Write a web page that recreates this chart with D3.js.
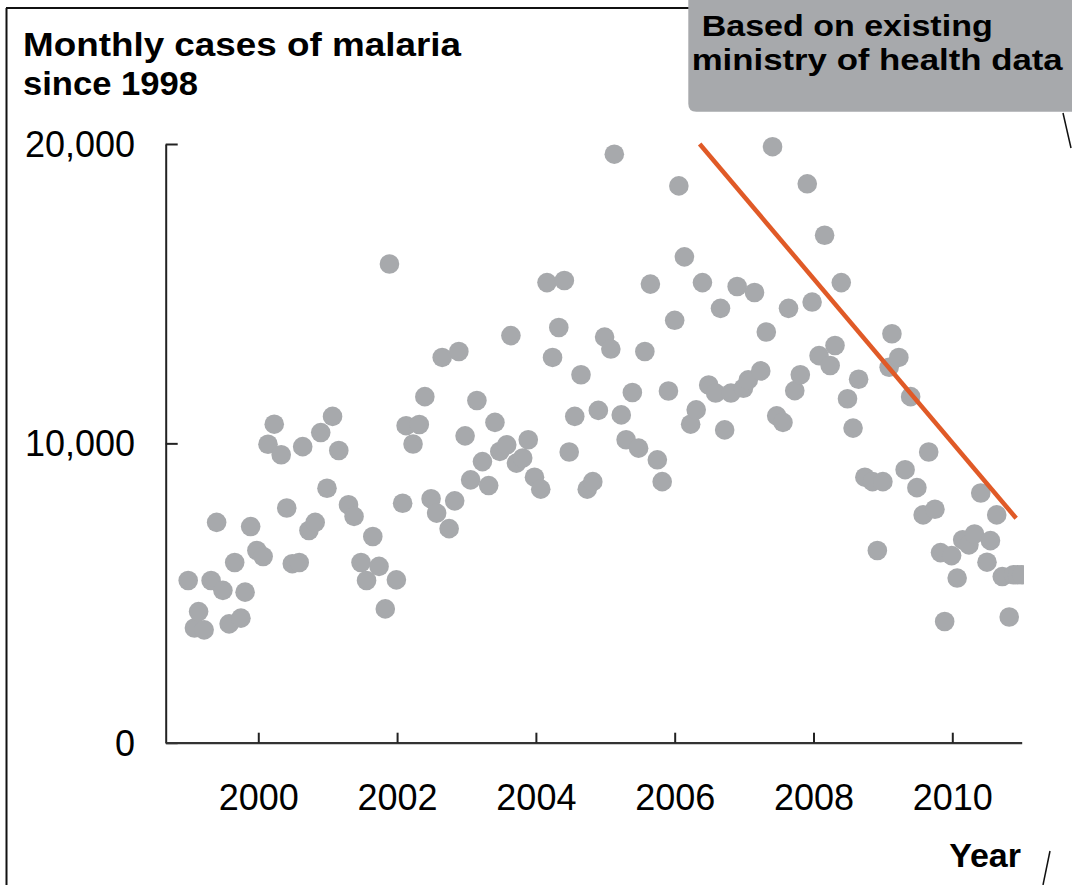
<!DOCTYPE html>
<html>
<head>
<meta charset="utf-8">
<script src="https://cdn.jsdelivr.net/npm/d3@7"></script>
<style>
  html, body { margin: 0; padding: 0; background: #fff; }
  svg { display: block; }
  text { font-family: "Liberation Sans", Arial, Helvetica, sans-serif; }
</style>
</head>
<body>
<svg id="chart" width="1072" height="885"></svg>
<script>
// ---- data ----
const titleLines = ["Monthly cases of malaria", "since 1998"];
const noteLines = ["Based on existing", "ministry of health data"];
const xAxisTitle = "Year";
const yTicks = [0, 10000, 20000];
const xTicks = [2000, 2002, 2004, 2006, 2008, 2010];

const years = [1998.99, 1999.08, 1999.14, 1999.22, 1999.32, 1999.40, 1999.49, 1999.58, 1999.66, 1999.75, 1999.81, 1999.89,
  1999.98, 2000.07, 2000.14, 2000.23, 2000.33, 2000.41, 2000.49, 2000.59, 2000.64, 2000.73, 2000.82, 2000.90,
  2000.99, 2001.07, 2001.16, 2001.30, 2001.38, 2001.48, 2001.56, 2001.65, 2001.74, 2001.83, 2001.89, 2001.99,
  2002.08, 2002.13, 2002.23, 2002.32, 2002.40, 2002.49, 2002.57, 2002.65, 2002.75, 2002.83, 2002.89, 2002.98,
  2003.06, 2003.15, 2003.23, 2003.32, 2003.41, 2003.48, 2003.58, 2003.64, 2003.72, 2003.81, 2003.89, 2003.98,
  2004.07, 2004.16, 2004.24, 2004.33, 2004.41, 2004.48, 2004.56, 2004.65, 2004.74, 2004.82, 2004.90,
  2004.99, 2005.08, 2005.13, 2005.23, 2005.30, 2005.39, 2005.48, 2005.57, 2005.65, 2005.75, 2005.82, 2005.91,
  2006.00, 2006.06, 2006.14, 2006.23, 2006.31, 2006.40, 2006.49, 2006.59, 2006.66, 2006.72, 2006.81, 2006.90,
  2006.99, 2007.06, 2007.15, 2007.24, 2007.32, 2007.41, 2007.47, 2007.56, 2007.64, 2007.73, 2007.81,
  2007.91, 2007.98, 2008.08, 2008.16, 2008.24, 2008.31, 2008.40, 2008.49, 2008.57, 2008.65,
  2008.74, 2008.85, 2008.92, 2009.00, 2009.09, 2009.13, 2009.23, 2009.32, 2009.40, 2009.49,
  2009.58, 2009.66, 2009.75, 2009.83, 2009.89, 2009.99, 2010.07, 2010.15, 2010.24, 2010.32,
  2010.41, 2010.50, 2010.55, 2010.64, 2010.72, 2010.82, 2010.88, 2010.94, 2011.00];

const cases = [5420, 3830, 4380, 3770, 5420, 7360, 5090, 3970, 6020, 4160, 5030, 7220,
  6420, 6220, 9970, 10640, 9620, 7840, 5980, 6020, 9890, 7090, 7360, 10360,
  8500, 10900, 9760, 7950, 7560, 6020, 5420, 6890, 5890, 4470, 15990, 5440,
  8000, 10590, 9980, 10630, 11560, 8150, 7670, 12870, 7150, 8080, 13070, 10250,
  8780, 11430, 9390, 8590, 10700, 9730, 9950, 13600, 9340, 9510, 10120, 8870,
  8470, 15370, 12870, 13870, 15440, 9710, 10900, 12290, 8470, 8720, 11100,
  13550, 13150, 19660, 10950, 10120, 11700, 9840, 13070, 15320, 9450, 8720, 11750,
  14110, 18600, 16230, 10640, 11120, 15370, 11950, 11680, 14510, 10450, 11680, 15240,
  11840, 12120, 15040, 12420, 13720, 19910, 10920, 10700, 14510, 11760, 12290,
  18670, 14720, 12930, 16950, 12600, 13270, 15370, 11490, 10510, 12140,
  8870, 8720, 6420, 8720, 12540, 13660, 12870, 9120, 11560, 8520,
  7610, 9710, 7800, 6350, 4050, 6250, 5500, 6780, 6610, 6970,
  8340, 6030, 6750, 7610, 5550, 4200, 5610, 5610, 5610];

const trendYears = [2006.36, 2010.92];
const trendCases = [20000, 7500];

// ---- drawing ----
const svg = d3.select("#chart");
svg.append("rect").attr("width", 1072).attr("height", 885).attr("fill", "#fff");

const x = d3.scaleLinear().domain([1998.666, 2011.0]).range([165.7, 1021.7]);
const y = d3.scaleLinear().domain([0, 20000]).range([742.7, 144]);

const grey = "#a7a9ac";
const axisColor = "#222";

// frame
svg.append("line").attr("x1", 6.5).attr("y1", 8).attr("x2", 6.5).attr("y2", 885)
  .attr("stroke", "#111").attr("stroke-width", 2);
svg.append("line").attr("x1", 6).attr("y1", 8).attr("x2", 700).attr("y2", 8)
  .attr("stroke", "#111").attr("stroke-width", 2);
svg.append("line").attr("x1", 1063).attr("y1", 113).attr("x2", 1071).attr("y2", 148)
  .attr("stroke", "#111").attr("stroke-width", 1.5);
svg.append("line").attr("x1", 1050).attr("y1", 851).attr("x2", 1043).attr("y2", 885)
  .attr("stroke", "#111").attr("stroke-width", 1.5);

// clip for points
svg.append("clipPath").attr("id", "plotClip")
  .append("rect").attr("x", 0).attr("y", 0).attr("width", 1024).attr("height", 885);

// points
const pts = years.map((yr, i) => ({ yr, v: cases[i] }));
svg.append("g").attr("clip-path", "url(#plotClip)")
  .selectAll("circle").data(pts).join("circle")
  .attr("cx", d => x(d.yr)).attr("cy", d => y(d.v))
  .attr("r", 9.8).attr("fill", grey);

// y axis
const yAxis = d3.axisLeft(y).tickValues(yTicks).tickFormat(d3.format(","))
  .tickSizeInner(-12).tickSizeOuter(0).tickPadding(30.7);
const gy = svg.append("g").attr("transform", "translate(165.7,0)").call(yAxis);
gy.select(".domain").attr("stroke", axisColor).attr("stroke-width", 2);
gy.selectAll(".tick line").attr("stroke", axisColor).attr("stroke-width", 2);
gy.selectAll(".tick text").attr("font-size", 36).attr("fill", "#000")
  .attr("font-family", "'Liberation Sans', Arial, sans-serif").attr("dy", "0.35em");

// x axis
const xAxis = d3.axisBottom(x).tickValues(xTicks).tickFormat(d3.format("d"))
  .tickSizeInner(-10).tickSizeOuter(0).tickPadding(41.7);
const gx = svg.append("g").attr("transform", "translate(0,742.7)").call(xAxis);
gx.select(".domain").attr("stroke", "#333").attr("stroke-width", 2.2);
gx.selectAll(".tick line").attr("stroke", axisColor).attr("stroke-width", 2);
gx.selectAll(".tick text").attr("font-size", 36).attr("fill", "#000")
  .attr("font-family", "'Liberation Sans', Arial, sans-serif");

// trend line
svg.append("path")
  .datum(trendYears.map((yr, i) => ({ yr, v: trendCases[i] })))
  .attr("d", d3.line().x(d => x(d.yr)).y(d => y(d.v)))
  .attr("fill", "none").attr("stroke", "#e05a27").attr("stroke-width", 4.5);

// title
const titleBase = [55.5, 94.5];
const titleLen = [438, 175];
svg.append("g").selectAll("text").data(titleLines).join("text")
  .attr("x", 23).attr("y", (d, i) => titleBase[i])
  .attr("font-size", 34).attr("font-weight", "bold").attr("fill", "#000")
  .attr("textLength", (d, i) => titleLen[i]).attr("lengthAdjust", "spacingAndGlyphs")
  .text(d => d);

// note box
svg.append("path")
  .attr("d", "M688.3,-5 H1080 V111.7 H696.3 Q688.3,111.7 688.3,103.7 Z")
  .attr("fill", grey);
const noteX = [701.7, 691.7];
const noteBase = [35.5, 69.5];
const noteLen = [291, 371];
svg.append("g").selectAll("text").data(noteLines).join("text")
  .attr("x", (d, i) => noteX[i]).attr("y", (d, i) => noteBase[i])
  .attr("font-size", 29).attr("font-weight", "bold").attr("fill", "#000")
  .attr("textLength", (d, i) => noteLen[i]).attr("lengthAdjust", "spacingAndGlyphs")
  .text(d => d);

// x-axis title
svg.append("text").attr("x", 1021).attr("y", 867).attr("text-anchor", "end")
  .attr("font-size", 34).attr("font-weight", "bold").attr("fill", "#000")
  .text(xAxisTitle);
</script>
</body>
</html>
